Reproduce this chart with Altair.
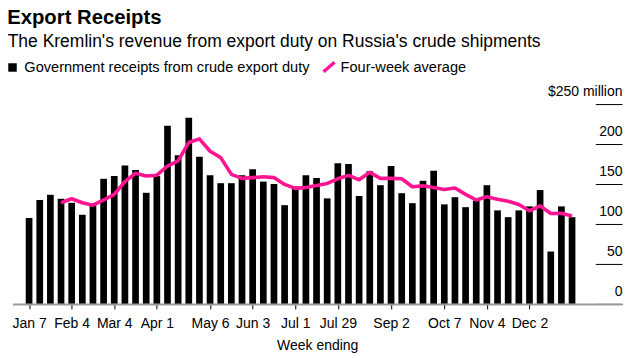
import altair as alt
import pandas as pd

# ---------------- data ----------------
weeks = [
    "2018-01-07", "2018-01-14", "2018-01-21", "2018-01-28", "2018-02-04", "2018-02-11",
    "2018-02-18", "2018-02-25", "2018-03-04", "2018-03-11", "2018-03-18", "2018-03-25",
    "2018-04-01", "2018-04-08", "2018-04-15", "2018-04-22", "2018-04-29", "2018-05-06",
    "2018-05-13", "2018-05-20", "2018-05-27", "2018-06-03", "2018-06-10", "2018-06-17",
    "2018-06-24", "2018-07-01", "2018-07-08", "2018-07-15", "2018-07-22", "2018-07-29",
    "2018-08-05", "2018-08-12", "2018-08-19", "2018-08-26", "2018-09-02", "2018-09-09",
    "2018-09-16", "2018-09-23", "2018-09-30", "2018-10-07", "2018-10-14", "2018-10-21",
    "2018-10-28", "2018-11-04", "2018-11-11", "2018-11-18", "2018-11-25", "2018-12-02",
    "2018-12-09", "2018-12-16", "2018-12-23", "2018-12-30",
]

receipts = [
    107.5, 130, 136.5, 131.5, 126.5, 111.5,
    123.5, 156.5, 160, 173, 167.5, 139,
    160, 223, 186, 233, 184, 161,
    151, 151, 161, 168.5, 153, 150,
    123.5, 147, 161, 157.5, 132, 176,
    175, 135, 166, 148.5, 172.5, 138.5,
    126, 154, 166.5, 124.5, 133.5, 121,
    129, 148.5, 117, 108.5, 117, 122,
    142.5, 65.5, 122, 108.5,
]

# four-week average starts with the 4th week (Jan 28)
avg_weeks = weeks[3:]
four_week_avg = [
    126.5, 131.5, 126.5, 123.5, 130, 137, 153, 163.5, 160,
    161, 172.5, 179, 202, 206.5, 191, 183, 162, 157,
    158, 159, 158, 149.5, 144.5, 145.7, 148, 150.7, 156.5,
    160.8, 155.3, 164.6, 157, 157, 156.5, 146.5, 147.7, 145.7,
    143, 145, 137, 130, 134, 131, 128.5, 124.3, 116.5,
    122.6, 113, 113.5, 110,
]

tick_dates = [
    "2018-01-07", "2018-02-04", "2018-03-04", "2018-04-01", "2018-05-06", "2018-06-03",
    "2018-07-01", "2018-07-29", "2018-09-02", "2018-10-07", "2018-11-04", "2018-12-02",
]
y_ticks = [0, 50, 100, 150, 200, 250]

title_text = "Export Receipts"
subtitle_text = "The Kremlin's revenue from export duty on Russia's crude shipments"
legend_bar = "Government receipts from crude export duty"
legend_line = "Four-week average"
x_title = "Week ending"

PINK = "#ff1491"
FONT = "Liberation Sans"

# ---------------- helpers ----------------
def ms(d):
    return int(pd.Timestamp(d, tz="UTC").value // 1_000_000)

W, H = 610, 200
day_px = (43.33 / 4) / 7
start = pd.Timestamp("2018-01-07", tz="UTC") - pd.Timedelta(days=11.8 / day_px)
end = start + pd.Timedelta(days=W / day_px)
x_domain = [int(start.value // 1_000_000), int(end.value // 1_000_000)]

bars_df = pd.DataFrame({"week": weeks, "value": receipts})
avg_df = pd.DataFrame({"week": avg_weeks, "value": four_week_avg})

x_scale = alt.Scale(type="utc", domain=x_domain)
y_scale = alt.Scale(domain=[0, 250], nice=False)

x_axis = alt.Axis(
    values=[ms(d) for d in tick_dates],
    labelExpr="utcFormat(datum.value, '%b %-d')",
    tickSize=5, tickColor="#000", tickWidth=1,
    domainColor="#999", domainWidth=2,
    labelFontSize=14, labelColor="#000", labelPadding=8, labelFont=FONT,
    labelFlush=False, labelOverlap=False, grid=False,
    title=x_title, titleFontSize=14, titleFontWeight="normal", titleFont=FONT,
    titleColor="#000", titleBaseline="alphabetic", titleY=46,
    zindex=1,
)

y_axis = alt.Axis(
    orient="right", offset=-26.7, values=y_ticks,
    tickSize=26.7, tickColor="#000", tickWidth=1,
    domain=False, grid=False,
    labelAlign="right", labelBaseline="alphabetic", labelOffset=-8.5, labelPadding=0,
    labelFontSize=14, labelColor="#000", labelFont=FONT,
    labelFlush=False, labelOverlap=False, labelBound=False,
    labelExpr="datum.value == 250 ? '$250 million' : datum.label",
    title=None,
)

bars = alt.Chart(bars_df).mark_bar(size=6.7, color="#000").encode(
    x=alt.X("week:T", scale=x_scale, axis=x_axis),
    y=alt.Y("value:Q", scale=y_scale, axis=y_axis),
)

line = alt.Chart(avg_df).mark_line(color=PINK, strokeWidth=3.6, strokeJoin="round").encode(
    x=alt.X("week:T", scale=x_scale, axis=x_axis),
    y=alt.Y("value:Q", scale=y_scale, axis=y_axis),
)

one = alt.Data(values=[{"k": 1}])

def label(text, x, y, size, weight="normal"):
    return alt.Chart(one).mark_text(
        align="left", baseline="alphabetic", fontSize=size, fontWeight=weight,
        font=FONT, color="#000",
    ).encode(x=alt.value(x), y=alt.value(y), text=alt.value(text))

title = label(title_text, -5.3, -80.3, 20.3, "bold")
subtitle = label(subtitle_text, -4.8, -57.3, 17.5)
leg_text1 = label(legend_bar, 11.8, -31.7, 14.6)
leg_text2 = label(legend_line, 328.3, -31.7, 14.6)

leg_square = alt.Chart(one).mark_square(color="#000", size=72, opacity=1).encode(
    x=alt.value(0), y=alt.value(-36.6)
)
leg_slash = alt.Chart(one).mark_rule(color=PINK, strokeWidth=3.4).encode(
    x=alt.value(311.3), x2=alt.value(322.3), y=alt.value(-32.3), y2=alt.value(-41.8)
)

chart = alt.layer(
    bars, line, title, subtitle, leg_square, leg_text1, leg_slash, leg_text2
).properties(
    width=W, height=H,
    autosize=alt.AutoSizeParams(type="none"),
    padding={"left": 4.5, "top": 96, "right": 8, "bottom": 54},
    background="white",
).configure_view(stroke=None)

chart.save("out.html", embed_options={"renderer": "svg", "actions": False})
